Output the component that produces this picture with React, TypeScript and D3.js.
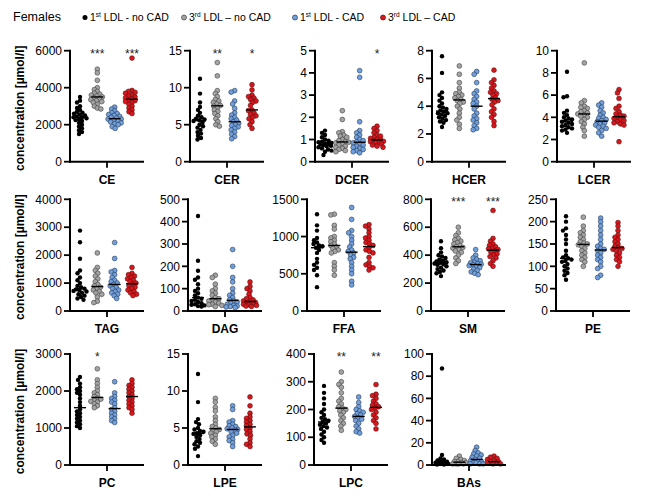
import React from "react";
import * as d3 from "d3";

const groups = ["1st LDL - no CAD", "3rd LDL – no CAD", "1st LDL - CAD", "3rd LDL – CAD"];
const groupFill = ["#000000", "#a3a3a3", "#6f9fdc", "#d9161c"];
const groupStroke = ["#000000", "#404040", "#2a3a55", "#5a1010"];

const panelNames = ["CE", "CER", "DCER", "HCER", "LCER", "TAG", "DAG", "FFA", "SM", "PE", "PC", "LPE", "LPC", "BAs"];
const panelMax = [6000, 15, 5, 8, 10, 4000, 500, 1500, 800, 250, 3000, 15, 400, 100];
const panelTicks = [
  [0, 2000, 4000, 6000], [0, 5, 10, 15], [0, 1, 2, 3, 4, 5], [0, 2, 4, 6, 8], [0, 2, 4, 6, 8, 10],
  [0, 1000, 2000, 3000, 4000], [0, 100, 200, 300, 400, 500], [0, 500, 1000, 1500], [0, 200, 400, 600, 800], [0, 50, 100, 150, 200, 250],
  [0, 1000, 2000, 3000], [0, 5, 10, 15], [0, 100, 200, 300, 400], [0, 20, 40, 60, 80, 100],
];
const panelStars = [
  ["", "***", "", "***"], ["", "**", "", "*"], ["", "", "", "*"], ["", "", "", ""], ["", "", "", ""],
  ["", "", "", ""], ["", "", "", ""], ["", "", "", ""], ["", "***", "", "***"], ["", "", "", ""],
  ["", "*", "", ""], ["", "", "", ""], ["", "**", "", "**"], ["", "", "", ""],
];

const CE = [
  [3500, 3300, 3200, 3000, 2900, 2800, 2700, 2650, 2600, 2550, 2500, 2450, 2400, 2400, 2350, 2300, 2250, 2200, 2100, 2000, 1900, 1800, 1700, 1600, 1500],
  [5000, 4800, 4400, 4000, 3900, 3800, 3700, 3650, 3600, 3550, 3500, 3450, 3400, 3350, 3300, 3250, 3200, 3100, 3000, 2900, 2850],
  [2950, 2850, 2750, 2650, 2600, 2550, 2500, 2450, 2400, 2350, 2300, 2300, 2250, 2200, 2150, 2100, 2050, 2000, 1900, 1800],
  [5600, 3850, 3800, 3750, 3700, 3600, 3550, 3500, 3450, 3400, 3350, 3300, 3250, 3200, 3100, 3000, 2900, 2800, 2700, 2600],
];
const CER = [
  [11.2, 9.2, 8.0, 7.4, 7.0, 6.6, 6.2, 6.0, 5.8, 5.7, 5.6, 5.5, 5.3, 5.0, 4.8, 4.6, 4.3, 4.0, 3.8, 3.5, 3.2, 3.0],
  [13.4, 11.6, 9.6, 9.2, 8.8, 8.4, 8.2, 8.0, 7.8, 7.6, 7.5, 7.3, 7.0, 6.8, 6.5, 6.2, 5.8, 5.4, 5.0, 4.8],
  [9.6, 9.4, 8.2, 7.8, 7.2, 6.6, 6.3, 6.0, 5.8, 5.6, 5.4, 5.2, 5.0, 4.9, 4.7, 4.5, 4.3, 4.0, 3.7, 3.4, 3.1],
  [10.4, 9.7, 9.0, 8.8, 8.6, 8.4, 8.2, 8.0, 7.6, 7.0, 6.9, 6.6, 6.4, 6.2, 6.0, 5.8, 5.4, 5.0, 4.5],
];
const DCER = [
  [1.4, 1.3, 1.2, 1.1, 1.0, 0.95, 0.9, 0.88, 0.85, 0.82, 0.8, 0.78, 0.75, 0.72, 0.7, 0.65, 0.6, 0.55, 0.5, 0.45, 0.3],
  [2.3, 1.9, 1.35, 1.3, 1.2, 1.15, 1.1, 1.0, 0.95, 0.9, 0.88, 0.85, 0.8, 0.75, 0.7, 0.65, 0.6, 0.55, 0.5, 0.45],
  [4.1, 3.8, 1.8, 1.4, 1.3, 1.2, 1.1, 1.0, 0.95, 0.9, 0.85, 0.8, 0.75, 0.7, 0.65, 0.6, 0.55, 0.5, 0.45, 0.4],
  [1.6, 1.5, 1.4, 1.3, 1.2, 1.15, 1.1, 1.05, 1.0, 0.98, 0.95, 0.92, 0.9, 0.88, 0.85, 0.8, 0.75, 0.7, 0.65],
];
const HCER = [
  [7.6, 6.4, 5.0, 4.8, 4.6, 4.4, 4.2, 4.0, 3.9, 3.8, 3.7, 3.6, 3.5, 3.5, 3.4, 3.3, 3.2, 3.1, 3.0, 2.9, 2.8, 2.5],
  [6.9, 6.3, 5.7, 5.3, 5.0, 4.9, 4.8, 4.7, 4.6, 4.5, 4.4, 4.3, 4.2, 4.0, 3.8, 3.5, 3.2, 3.0, 2.7, 2.4],
  [6.5, 6.3, 5.7, 5.1, 4.9, 4.7, 4.5, 4.3, 4.2, 4.0, 3.8, 3.5, 3.3, 3.1, 3.0, 2.8, 2.6, 2.4, 2.3],
  [6.6, 5.9, 5.7, 5.5, 5.3, 5.1, 5.0, 4.9, 4.8, 4.6, 4.5, 4.4, 4.3, 4.1, 3.8, 3.6, 3.4, 3.2, 2.9, 2.6],
];
const LCER = [
  [8.1, 5.9, 5.8, 4.6, 4.4, 4.2, 4.0, 3.9, 3.8, 3.7, 3.6, 3.5, 3.4, 3.3, 3.2, 3.1, 3.0, 2.9, 2.8, 2.6],
  [8.9, 5.5, 5.3, 5.0, 4.9, 4.8, 4.6, 4.5, 4.4, 4.3, 4.2, 4.1, 4.0, 3.8, 3.6, 3.4, 3.1, 2.8, 2.3],
  [5.3, 5.1, 4.9, 4.6, 4.4, 4.2, 4.0, 3.9, 3.8, 3.7, 3.6, 3.5, 3.4, 3.3, 3.2, 3.1, 3.0, 2.8, 2.6, 2.3],
  [6.5, 6.2, 5.7, 5.0, 4.8, 4.5, 4.3, 4.2, 4.1, 4.0, 3.9, 3.8, 3.7, 3.6, 3.5, 3.4, 3.3, 1.8],
];
const TAG = [
  [2880, 2460, 1870, 1450, 1350, 1200, 1100, 1000, 900, 850, 800, 780, 750, 720, 700, 650, 600, 550, 500, 450, 400],
  [2080, 1560, 1450, 1350, 1250, 1150, 1050, 950, 900, 850, 800, 750, 700, 650, 600, 500, 350, 300],
  [2450, 1880, 1450, 1400, 1300, 1200, 1100, 1050, 1000, 950, 900, 850, 800, 750, 700, 650, 600, 550, 450],
  [1560, 1350, 1300, 1250, 1200, 1150, 1100, 1050, 1000, 950, 900, 850, 800, 750, 700, 650, 600, 550],
];
const DAG = [
  [425, 225, 180, 150, 140, 120, 100, 90, 80, 70, 60, 55, 50, 45, 40, 35, 30, 28, 25, 22, 20],
  [160, 150, 120, 100, 90, 80, 70, 60, 55, 50, 45, 40, 35, 30, 28, 25, 20],
  [275, 200, 150, 130, 100, 80, 70, 60, 50, 45, 40, 35, 30, 25, 22, 20, 18, 15],
  [130, 110, 100, 90, 75, 60, 55, 50, 45, 40, 38, 35, 32, 30, 28, 25, 22, 20],
];
const FFA = [
  [1300, 1150, 1080, 980, 950, 920, 900, 880, 870, 850, 820, 780, 700, 650, 620, 580, 550, 480, 320],
  [1300, 1290, 1150, 1100, 1000, 980, 950, 930, 900, 880, 860, 840, 820, 800, 780, 650, 600, 550, 480],
  [1390, 1230, 1080, 1050, 1000, 950, 900, 860, 820, 800, 780, 750, 720, 700, 650, 600, 550, 500, 400, 350],
  [1160, 1140, 1100, 1050, 1000, 980, 950, 920, 900, 880, 850, 820, 800, 780, 720, 650, 620, 600, 580, 550],
];
const SM = [
  [500, 450, 420, 400, 390, 380, 370, 360, 355, 350, 345, 340, 335, 330, 320, 310, 300, 290, 280, 270, 250],
  [600, 560, 540, 520, 510, 500, 490, 480, 470, 460, 455, 450, 440, 430, 420, 400, 380, 360, 340],
  [440, 400, 380, 370, 360, 350, 345, 340, 335, 330, 325, 320, 310, 300, 290, 280, 270, 260],
  [720, 520, 500, 480, 470, 460, 450, 445, 440, 430, 420, 410, 400, 390, 380, 360, 340, 320],
];
const PE = [
  [212, 200, 185, 180, 170, 160, 150, 135, 125, 120, 118, 115, 112, 110, 105, 100, 95, 90, 85, 80, 70],
  [210, 190, 180, 175, 170, 165, 160, 155, 152, 150, 148, 145, 140, 135, 130, 125, 120, 115, 110, 100],
  [208, 200, 190, 180, 170, 160, 150, 145, 140, 138, 135, 130, 125, 120, 115, 110, 100, 95, 80, 75],
  [198, 190, 180, 170, 165, 160, 155, 150, 145, 142, 140, 138, 135, 130, 125, 120, 115, 110, 100],
];
const PC = [
  [2380, 2300, 2200, 2100, 2050, 2000, 1950, 1900, 1800, 1700, 1600, 1500, 1450, 1400, 1350, 1300, 1250, 1200, 1150, 1100, 1050, 1000],
  [2600, 2300, 2200, 2100, 2000, 1950, 1900, 1850, 1800, 1780, 1750, 1720, 1700, 1650, 1600, 1550],
  [2250, 1950, 1850, 1800, 1750, 1700, 1650, 1550, 1500, 1450, 1400, 1350, 1300, 1250, 1200, 1150],
  [2300, 2200, 2150, 2100, 2050, 2000, 1950, 1900, 1850, 1800, 1750, 1700, 1650, 1600, 1550, 1500, 1400],
];
const LPE = [
  [12.3, 8.5, 6.2, 5.8, 5.5, 5.0, 4.8, 4.6, 4.5, 4.3, 4.2, 4.0, 3.8, 3.5, 3.2, 3.0, 2.8, 2.5, 2.2, 1.2],
  [9.0, 8.5, 7.8, 7.3, 6.5, 6.0, 5.5, 5.2, 5.0, 4.8, 4.7, 4.5, 4.3, 4.0, 3.8, 3.5, 3.2, 2.8],
  [8.0, 7.5, 6.0, 5.8, 5.5, 5.3, 5.2, 5.0, 4.9, 4.8, 4.7, 4.5, 4.3, 4.0, 3.8, 3.5, 3.3, 3.0, 2.5],
  [9.2, 8.0, 7.0, 6.5, 6.3, 6.0, 5.8, 5.5, 5.3, 5.0, 4.8, 4.5, 4.2, 4.0, 3.5, 3.0, 2.8, 2.5],
];
const LPC = [
  [285, 260, 240, 220, 200, 190, 180, 170, 165, 160, 155, 150, 145, 140, 135, 130, 120, 110, 100, 90, 80],
  [335, 300, 290, 280, 260, 240, 230, 220, 210, 205, 200, 195, 190, 180, 170, 160, 150, 140, 125],
  [245, 225, 210, 200, 195, 190, 185, 180, 175, 170, 165, 160, 150, 140, 130, 120, 115],
  [290, 255, 250, 240, 230, 220, 215, 210, 205, 200, 190, 180, 170, 160, 150, 130],
];
const BAs = [
  [87, 9, 6, 5, 4, 3, 3, 2, 2, 2, 1, 1, 1, 1, 0.5, 0.5],
  [8, 6, 5, 4, 3, 3, 2, 2, 1, 1, 1, 1],
  [16, 13, 11, 10, 9, 8, 7, 6, 5, 4, 3, 3, 2, 2, 1, 1, 1],
  [8, 7, 6, 5, 4, 3, 3, 2, 2, 1, 1],
];
const panelData = [CE, CER, DCER, HCER, LCER, TAG, DAG, FFA, SM, PE, PC, LPE, LPC, BAs];

// layout
const axisX = [70, 190, 315, 432, 557, 70, 188, 307, 431, 556, 70, 188, 314, 432];
const rowTop = [50.7, 199.3, 354];
const rowBottom = [161.7, 311, 465];
const axisLen = 74;
const R = 2.4;
const FONT = "'Liberation Sans', Arial, Helvetica, sans-serif";

function beeswarm(ys: number[], cx: number, r: number, maxOff: number) {
  const idx = ys.map((y, i) => i).sort((a, b) => ys[a] - ys[b]);
  const placed: { x: number; y: number }[] = [];
  const out: { x: number; y: number }[] = new Array(ys.length);
  const d = r * 1.45;
  for (const i of idx) {
    const y = ys[i];
    let best = 0;
    let bestScore = Infinity;
    for (let k = 0; k < 200; k++) {
      const off = (k % 2 === 0 ? 1 : -1) * Math.ceil(k / 2) * 0.5;
      if (Math.abs(off) > maxOff) break;
      const x = cx + off;
      let minD = Infinity;
      for (const p of placed) {
        const dx = p.x - x, dy = p.y - y;
        const dd = Math.sqrt(dx * dx + dy * dy);
        if (dd < minD) minD = dd;
      }
      if (minD >= d) { best = off; bestScore = -1; break; }
      const score = -minD;
      if (score < bestScore) { bestScore = score; best = off; }
    }
    const pt = { x: cx + best, y };
    placed.push(pt);
    out[i] = pt;
  }
  return out;
}

function Panel({ pi }: { pi: number }) {
  const row = Math.floor(pi / 5);
  const x0 = axisX[pi];
  const top = rowTop[row];
  const bottom = rowBottom[row];
  const y = d3.scaleLinear().domain([0, panelMax[pi]]).range([bottom, top]);
  const gx = d3.scalePoint<number>().domain([0, 1, 2, 3]).range([x0 + 10, x0 + 62]);
  const data = panelData[pi];
  return (
    <g>
      {data.map((vals, gi) => {
        const cx = gx(gi) as number;
        const pts = beeswarm(vals.map((v) => y(v)), cx, R, 6.5);
        const med = d3.median(vals) as number;
        return (
          <g key={gi}>
            {pts.map((p, k) => (
              <circle key={k} cx={p.x} cy={p.y} r={gi === 0 ? R - 0.2 : R}
                fill={groupFill[gi]} stroke={groupStroke[gi]} strokeWidth={gi === 0 ? 0 : 0.6} />
            ))}
            <line x1={cx - 6} x2={cx + 6} y1={y(med)} y2={y(med)} stroke="#000" strokeWidth={1.4} />
            {panelStars[pi][gi] && (
              <text x={cx} y={top + 7} textAnchor="middle" fontSize={12} fontFamily={FONT} fill="#222">
                {panelStars[pi][gi]}
              </text>
            )}
          </g>
        );
      })}
      {/* y axis */}
      <line x1={x0} x2={x0} y1={top - 1} y2={bottom + 1} stroke="#000" strokeWidth={2} />
      {panelTicks[pi].map((t) => (
        <g key={t}>
          <line x1={x0 - 6} x2={x0} y1={y(t)} y2={y(t)} stroke="#000" strokeWidth={1.8} />
          <text x={x0 - 8} y={y(t)} dy="0.35em" textAnchor="end" fontSize={12} fontFamily={FONT} fill="#000">
            {t}
          </text>
        </g>
      ))}
      {/* x axis */}
      <line x1={x0 - 1} x2={x0 + axisLen} y1={bottom} y2={bottom} stroke="#000" strokeWidth={2} />
      <line x1={x0 + axisLen / 2} x2={x0 + axisLen / 2} y1={bottom} y2={bottom + 6} stroke="#000" strokeWidth={1.8} />
      <text x={x0 + axisLen / 2} y={bottom + 22} textAnchor="middle" fontSize={12} fontWeight="bold" fontFamily={FONT}>
        {panelNames[pi]}
      </text>
    </g>
  );
}

function LegendLabel({ x, n, sup, rest }: { x: number; n: string; sup: string; rest: string }) {
  return (
    <text x={x} y={21} fontSize={10.5} fontFamily={FONT} fill="#000">
      {n}
      <tspan fontSize={6.5} dy={-4}>{sup}</tspan>
      <tspan dy={4}>{rest}</tspan>
    </text>
  );
}

export default function App() {
  const legendX = [85, 184, 295, 383];
  const legendParts = [
    ["1", "st", " LDL - no CAD"],
    ["3", "rd", " LDL – no CAD"],
    ["1", "st", " LDL - CAD"],
    ["3", "rd", " LDL – CAD"],
  ];
  return (
    <svg width={669} height={502} style={{ position: "absolute", left: 0, top: 0, background: "#fff" }}>
      <rect x={0} y={0} width={669} height={502} fill="#fff" />
      <text x={13} y={21} fontSize={12.5} fontFamily={FONT}>Females</text>
      {groups.map((g, i) => (
        <g key={g}>
          <circle cx={legendX[i]} cy={17.5} r={2.5} fill={groupFill[i]} stroke={groupStroke[i]} strokeWidth={i === 0 ? 0 : 0.7} />
          <LegendLabel x={legendX[i] + 5} n={legendParts[i][0]} sup={legendParts[i][1]} rest={legendParts[i][2]} />
        </g>
      ))}
      {[0, 1, 2].map((r) => (
        <text key={r} transform={`translate(24,${(rowTop[r] + rowBottom[r]) / 2 + 2}) rotate(-90)`}
          textAnchor="middle" fontSize={12} fontWeight="bold" fontFamily={FONT}>
          concentration [µmol/l]
        </text>
      ))}
      {panelNames.map((_, pi) => <Panel key={pi} pi={pi} />)}
    </svg>
  );
}
